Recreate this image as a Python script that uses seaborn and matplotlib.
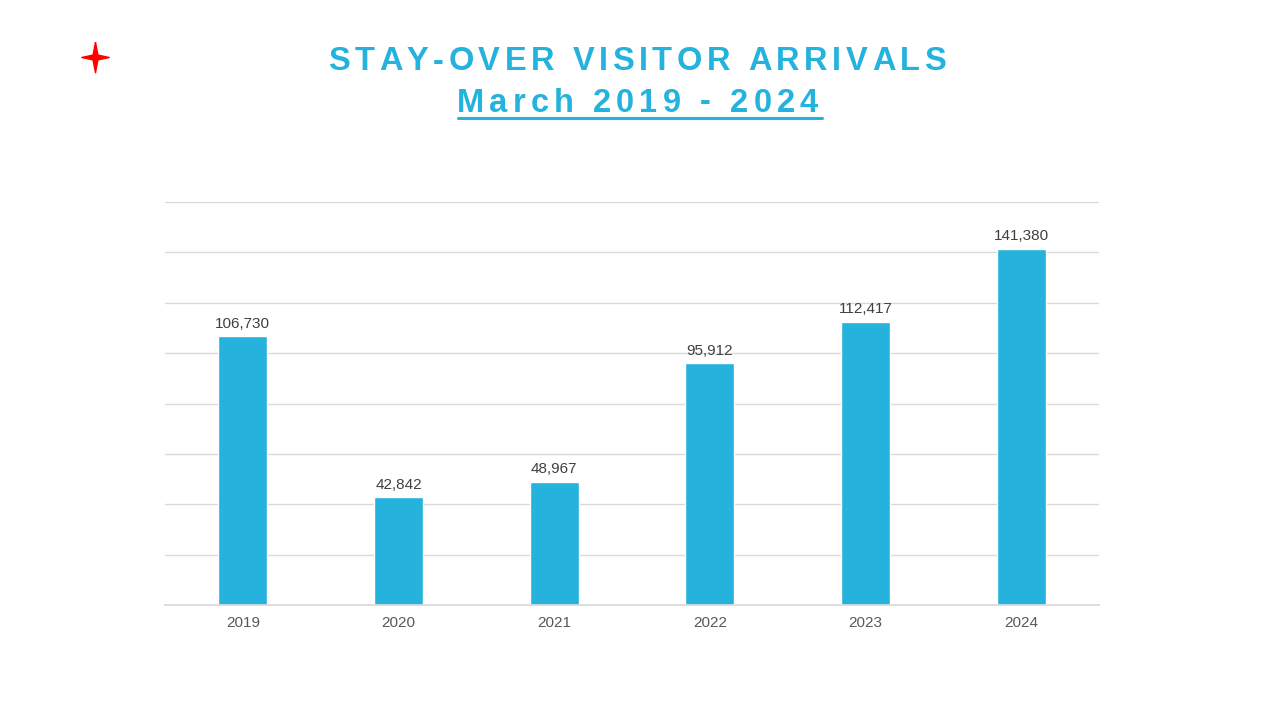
import seaborn as sns
import matplotlib.pyplot as plt
import pandas as pd
from matplotlib.lines import Line2D
from matplotlib.path import Path

years = ["2019", "2020", "2021", "2022", "2023", "2024"]
arrivals = [106730, 42842, 48967, 95912, 112417, 141380]

title_line1 = "STAY-OVER VISITOR ARRIVALS"
title_line2 = "March 2019 - 2024"

blue = "#25B2DC"

sns.set_theme(style="white")
plt.rcParams["font.family"] = ["Liberation Sans", "DejaVu Sans"]

df = pd.DataFrame({"year": years, "arrivals": arrivals})

fig = plt.figure(figsize=(12.8, 7.2), dpi=100)
ax = fig.add_axes([0.1289, 0.1597, 0.7297, 0.5597])

sns.barplot(data=df, x="year", y="arrivals", color=blue, width=0.315,
            saturation=1, ax=ax)

ax.set_ylim(0, 160000)
ax.set_yticks(range(0, 160001, 20000))
ax.yaxis.grid(True, color="#d9d9d9", linewidth=1)
ax.set_axisbelow(True)
ax.set_yticklabels([])
ax.tick_params(axis="y", length=0)
ax.tick_params(axis="x", length=0, labelsize=11, labelcolor="#595959", pad=8)
ax.set_xlabel("")
ax.set_ylabel("")
for s in ["top", "right", "left"]:
    ax.spines[s].set_visible(False)
ax.spines["bottom"].set_color("#d9d9d9")

for i, v in enumerate(arrivals):
    ax.annotate(f"{v:,}", (i, v), xytext=(0, 4), textcoords="offset points",
                ha="center", va="bottom", fontsize=11, color="#404040")


# title with letter spacing: lay characters out one by one between x0 and x1 (pixels)
def spaced_title(s, x0, x1, base_y, size=23.5):
    r = fig.canvas.get_renderer()
    space_w = 0.278 * size * 100 / 72
    texts, widths = [], []
    for c in s:
        if c == " ":
            texts.append(None)
            widths.append(space_w)
            continue
        t = fig.text(0, 0, c, ha="left", va="baseline", fontsize=size,
                     fontweight="bold", color=blue)
        texts.append(t)
        widths.append(t.get_window_extent(r).width)
    gap = (x1 - x0 - sum(widths)) / (len(s) - 1)
    x = x0
    for t, w in zip(texts, widths):
        if t is not None:
            t.set_position((x / 1280, 1 - base_y / 720))
        x += w + gap


spaced_title(title_line1, 328, 946, 70.5)
spaced_title(title_line2, 457, 818, 111.5)
fig.add_artist(Line2D([458 / 1280, 822 / 1280], [1 - 118.3 / 720, 1 - 118.3 / 720],
                      color=blue, linewidth=2.2, transform=fig.transFigure))

star = Path([(0, 1), (0.16, 0.16), (0.9, 0), (0.16, -0.16), (0, -1),
             (-0.16, -0.16), (-0.9, 0), (-0.16, 0.16), (0, 1)])
fig.add_artist(Line2D([94.5 / 1280], [1 - 57 / 720], marker=star, markersize=22,
                      color="red", linestyle="none", transform=fig.transFigure))

fig.savefig("out.png", dpi=100)
